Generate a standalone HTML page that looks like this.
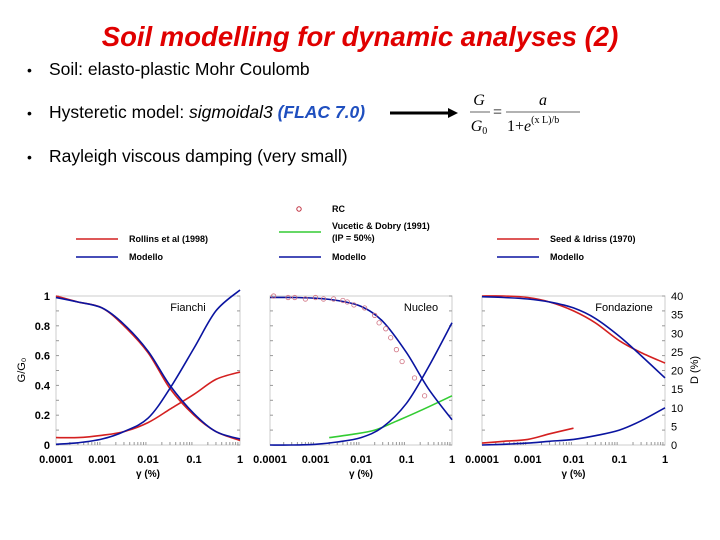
<!DOCTYPE html>
<html><head><meta charset="utf-8"><style>
body{margin:0;background:#fff;width:720px;height:540px;overflow:hidden;font-family:"Liberation Sans",Arial,sans-serif}
svg{position:absolute;left:0;top:0}
</style></head><body>
<svg id="s" width="720" height="540" viewBox="0 0 720 540">
<text x="360" y="46" text-anchor="middle" font-size="27.5" font-weight="bold" font-style="italic" fill="#e00000">Soil modelling for dynamic analyses (2)</text>
<g font-size="17.5" fill="#000">
<text x="27" y="75" font-size="14">•</text><text x="49" y="75">Soil: elasto-plastic Mohr Coulomb</text>
<text x="27" y="118" font-size="14">•</text><text x="49" y="118">Hysteretic model: <tspan font-style="italic">sigmoidal3</tspan> <tspan fill="#1f4fbf" font-style="italic" font-weight="bold">(FLAC 7.0)</tspan></text>
<text x="27" y="162" font-size="14">•</text><text x="49" y="162">Rayleigh viscous damping (very small)</text>
</g>
<line x1="390" y1="113" x2="450" y2="113" stroke="#000" stroke-width="3"/>
<polygon points="448,108 458,113 448,118" fill="#000"/>
<g font-family="Liberation Serif,serif" font-style="italic" font-size="16">
<text x="479" y="105" text-anchor="middle">G</text>
<line x1="470" y1="112" x2="490" y2="112" stroke="#666"/>
<text x="479" y="131" text-anchor="middle">G<tspan font-size="10" dy="3" font-style="normal">0</tspan></text>
<text x="493" y="117" font-style="normal">=</text>
<text x="543" y="105" text-anchor="middle">a</text>
<line x1="506" y1="112" x2="580" y2="112" stroke="#666"/>
<text x="507" y="131" font-style="normal">1+<tspan font-style="italic">e</tspan><tspan font-size="10" dy="-8">(x  L)/b</tspan></text>
</g>
<g id="legends" font-size="9" font-weight="bold"></g>
<g id="plots"></g>
</svg>
<script>
const gam=[1e-4,3e-4,1e-3,3e-3,1e-2,3e-2,0.1,0.3,1];
const p1RollinsG=[1,0.96,0.92,0.80,0.62,0.38,0.20,0.09,0.03];
const p1ModelG=[0.99,0.96,0.92,0.81,0.63,0.40,0.21,0.09,0.04];
const p1RollinsD=[0.05,0.05,0.065,0.09,0.15,0.24,0.34,0.44,0.49];
const p1ModelD=[0.005,0.015,0.04,0.09,0.18,0.38,0.65,0.90,1.04];
const p2ModelG=[0.99,0.99,0.985,0.97,0.93,0.83,0.62,0.38,0.17];
const p2ModelD=[0,0,0.005,0.02,0.05,0.12,0.28,0.52,0.82];
const p2VucGam=[0.002,0.006,0.02,0.06,0.2,1];
const p2VucD=[0.05,0.07,0.1,0.16,0.23,0.33];
const rcGam=[1.2e-4,2.5e-4,3.5e-4,6e-4,1e-3,1.5e-3,2.5e-3,4e-3,5e-3,7e-3,0.012,0.02,0.025,0.035,0.045,0.06,0.08,0.15,0.25];
const rcG=[1.0,0.99,0.99,0.98,0.99,0.98,0.98,0.97,0.96,0.94,0.92,0.87,0.82,0.78,0.72,0.64,0.56,0.45,0.33];
const p3SeedG=[1,1,0.99,0.96,0.90,0.82,0.70,0.62,0.55];
const p3ModelG=[0.995,0.99,0.98,0.96,0.92,0.85,0.73,0.60,0.45];
const p3SeedGam=[1e-4,3e-4,1e-3,3e-3,1e-2];
const p3SeedD=[0.5,1,1.5,3,4.5];
const p3ModelD=[0,0.2,0.5,1,1.5,2.5,4,6.5,10];
const xTicks=["0.0001","0.001","0.01","0.1","1"];
const yTicks=["0","0.2","0.4","0.6","0.8","1"];
const dTicks=["0","5","10","15","20","25","30","35","40"];
const NS="http://www.w3.org/2000/svg";
const plots=document.getElementById('plots');
function mk(tag,attrs,parent){const e=document.createElementNS(NS,tag);for(const k in attrs)e.setAttribute(k,attrs[k]);(parent||plots).appendChild(e);return e;}
const RED="#d42020",BLUE="#0a14a0",GREEN="#33cc33";
const T=296,B=445;
function panel(x0,x1,name,label,labx){
  const g=mk('g',{});
  
  
  const sx=v=>x0+(Math.log10(v)+4)/4*(x1-x0);
  const sy=v=>B-v*(B-T);
  const sd=v=>B-v/40*(B-T);
  const ax=mk('rect',{x:x0,y:T,width:x1-x0,height:B-T,fill:'none',stroke:'#ccc','stroke-width':1},g);
  
  
  for(let d=0;d<4;d++)for(let m=2;m<10;m++){const xx=sx(Math.pow(10,d-4)*m);mk('line',{x1:xx,x2:xx,y1:B,y2:B-3,stroke:'#999'},g);}
  for(let i=0;i<=10;i++){const yy=sy(i/10);mk('line',{x1:x0,x2:x0+3,y1:yy,y2:yy,stroke:'#999'},g);mk('line',{x1:x1,x2:x1-3,y1:yy,y2:yy,stroke:'#999'},g);}
  xTicks.forEach((t,i)=>{const e=mk('text',{x:sx(Math.pow(10,i-4)),y:463,'text-anchor':'middle','font-size':11,'font-weight':'bold'},g);e.textContent=t;
    
    });
  const xl=mk('text',{x:(x0+x1)/2,y:477,'text-anchor':'middle','font-size':10,'font-weight':'bold'},g);xl.textContent='γ (%)';
  
  
  const lb=mk('text',{x:labx,y:311,'text-anchor':'middle','font-size':11},g);lb.textContent=label;
  
  
  return {g,sx,sy,sd};
}
function line(P,xs,ys,f,col,nm){
  const p=xs.map((x,i)=>[P.sx(x),f(ys[i])]);
  let d='M'+p[0][0].toFixed(1)+','+p[0][1].toFixed(1);
  for(let i=0;i<p.length-1;i++){
    const a=p[Math.max(0,i-1)],b=p[i],c=p[i+1],e=p[Math.min(p.length-1,i+2)];
    const c1=[b[0]+(c[0]-a[0])/6,b[1]+(c[1]-a[1])/6],c2=[c[0]-(e[0]-b[0])/6,c[1]-(e[1]-b[1])/6];
    d+='C'+c1[0].toFixed(1)+','+c1[1].toFixed(1)+' '+c2[0].toFixed(1)+','+c2[1].toFixed(1)+' '+c[0].toFixed(1)+','+c[1].toFixed(1);
  }
  const el=mk('path',{d:d,fill:'none',stroke:col,'stroke-width':1.6},P.g);
  
  
}
const P1=panel(56,240,'panel-fianchi','Fianchi',188);
line(P1,gam,p1RollinsG,P1.sy,RED,'rollins-g-curve');
line(P1,gam,p1RollinsD,P1.sy,RED,'rollins-d-curve');
line(P1,gam,p1ModelG,P1.sy,BLUE,'modello-g-curve');
line(P1,gam,p1ModelD,P1.sy,BLUE,'modello-d-curve');
yTicks.forEach((t,i)=>{const e=mk('text',{x:50,y:P1.sy(i*0.2)+4,'text-anchor':'end','font-size':11,'font-weight':'bold'});e.textContent=t;
  
  });
const yt=mk('text',{x:0,y:0,'text-anchor':'middle','font-size':11,transform:'translate(25,370) rotate(-90)'});yt.textContent='G/G₀';



const P2=panel(270,452,'panel-nucleo','Nucleo',421);
line(P2,p2VucGam,p2VucD,P2.sy,GREEN,'vucetic-d-curve');
line(P2,gam,p2ModelG,P2.sy,BLUE,'modello-g-curve');
line(P2,gam,p2ModelD,P2.sy,BLUE,'modello-d-curve');
rcGam.forEach((x,i)=>{const c=mk('circle',{cx:P2.sx(x),cy:P2.sy(rcG[i]),r:2.2,fill:'none',stroke:'#d07080','stroke-width':0.8},P2.g);
  
  });

const P3=panel(482,665,'panel-fondazione','Fondazione',624);
line(P3,gam,p3SeedG,P3.sy,RED,'seed-g-curve');
line(P3,p3SeedGam,p3SeedD,P3.sd,RED,'seed-d-curve');
line(P3,gam,p3ModelG,P3.sy,BLUE,'modello-g-curve');
line(P3,gam,p3ModelD,P3.sd,BLUE,'modello-d-curve');
dTicks.forEach((t,i)=>{const e=mk('text',{x:671,y:P3.sd(i*5)+4,'font-size':11},P3.g);e.textContent=t;
  
  });
const dt=mk('text',{x:0,y:0,'text-anchor':'middle','font-size':11,transform:'translate(698,370) rotate(-90)'});dt.textContent='D (%)';



const L=document.getElementById('legends');
function leg(x,y,col,txt,nm,ty){
  const l=mk('line',{x1:x,x2:x+42,y1:y,y2:y,stroke:col,'stroke-width':1.6},L);
  
  
  const t=mk('text',{x:x+53,y:(ty||y)+3},L);t.textContent=txt;
  
  
}
leg(76,239,RED,'Rollins et al (1998)','legend-rollins');
leg(76,257,BLUE,'Modello','legend-modello-1');
leg(279,232,GREEN,'Vucetic & Dobry (1991)','legend-vucetic',226);
const t2=mk('text',{x:332,y:241},L);t2.textContent='(IP = 50%)';


leg(279,257,BLUE,'Modello','legend-modello-2');
const rc=mk('circle',{cx:299,cy:209,r:2.2,fill:'none',stroke:'#c03040','stroke-width':1},L);


const rt=mk('text',{x:332,y:212},L);rt.textContent='RC';


leg(497,239,RED,'Seed & Idriss (1970)','legend-seed');
leg(497,257,BLUE,'Modello','legend-modello-3');
</script>
</body></html>
